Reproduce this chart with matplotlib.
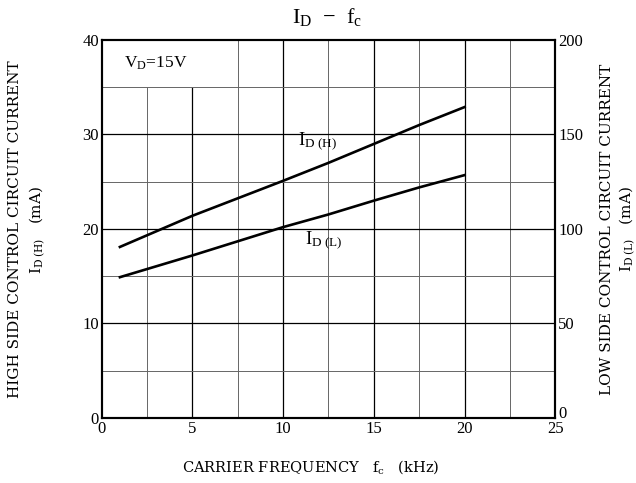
import matplotlib
matplotlib.use("Agg")
import matplotlib.pyplot as plt
import numpy as np

plt.rcParams["font.family"] = ["Liberation Serif", "DejaVu Serif"]
plt.rcParams["mathtext.fontset"] = "custom"
plt.rcParams["mathtext.rm"] = "Liberation Serif"
plt.rcParams["mathtext.it"] = "Liberation Serif"

# carrier frequency (kHz)
fc = [1, 5, 10, 12.5, 15, 17.5, 20]
# high side current, left axis (mA)
id_high = [18.1, 21.4, 25.1, 27.0, 29.0, 31.0, 32.9]
# low side current, right axis (mA)
id_low = [74.5, 86.0, 101.0, 107.7, 115.0, 122.0, 128.5]

x_major = [5, 10, 15, 20]
x_minor = [2.5, 7.5, 12.5, 17.5, 22.5]
y_major = [10, 20, 30]
y_minor = [5, 15, 25, 35]

fig = plt.figure(figsize=(6.36, 4.83), dpi=100)
ax = fig.add_axes([0.160, 0.1346, 0.713, 0.7826])
ax.set_xlim(0, 25)
ax.set_ylim(0, 40)

# grid drawn by hand so the V_D box at the top-left stays clear
for x in x_major + x_minor:
    top = 35 if x < 7.5 else 40
    lw, c = (0.9, "black") if x in x_major else (0.7, "#666666")
    ax.vlines(x, 0, top, colors=c, linewidth=lw, zorder=1)
for y in y_major + y_minor:
    lw, c = (0.9, "black") if y in y_major else (0.7, "#666666")
    ax.hlines(y, 0, 25, colors=c, linewidth=lw, zorder=1)

ax.plot(fc, id_high, color="black", linewidth=1.9, zorder=3)

ax2 = ax.twinx()
ax2.set_ylim(0, 200)
ax2.plot(fc, id_low, color="black", linewidth=1.9, zorder=3)

ax.set_xticks([0, 5, 10, 15, 20, 25])
ax.set_yticks([0, 10, 20, 30, 40])
ax2.set_yticks([0, 50, 100, 150, 200])
for a in (ax, ax2):
    a.tick_params(length=0, labelsize=12, pad=2)
    for s in a.spines.values():
        s.set_linewidth(1.5)
        s.set_color("black")
# right-hand "0" sits just above the x-axis "25"
ax2.get_yticklabels()[0].set_va("baseline")

ax.text(1.2, 37.5, r"V$_\mathregular{D}$=15V", fontsize=12.5, va="center")
ax.text(10.8, 29.3, r"I$_\mathregular{D\ (H)}$", fontsize=13.5, va="center")
ax.text(11.2, 18.8, r"I$_\mathregular{D\ (L)}$", fontsize=13.5, va="center")

fig.text(0.515, 0.965, r"I$_\mathregular{D}$  $-$  f$_\mathregular{c}$",
         fontsize=16, ha="center", va="center")

lab = dict(family=["DejaVu Serif"], fontsize=10.5, ha="center", va="center")
fig.text(0.488, 0.033, r"CARRIER FREQUENCY   f$_\mathregular{c}$   (kHz)", **lab)
lab["fontsize"] = 11
fig.text(0.024, 0.525, "HIGH SIDE CONTROL CIRCUIT CURRENT", rotation=90, **lab)
fig.text(0.059, 0.525, r"I$_\mathregular{D\ (H)}$   (mA)", rotation=90, **lab)
fig.text(0.955, 0.525, "LOW SIDE CONTROL CIRCUIT CURRENT", rotation=90, **lab)
fig.text(0.986, 0.525, r"I$_\mathregular{D\ (L)}$   (mA)", rotation=90, **lab)

fig.savefig("out.png", dpi=100)
